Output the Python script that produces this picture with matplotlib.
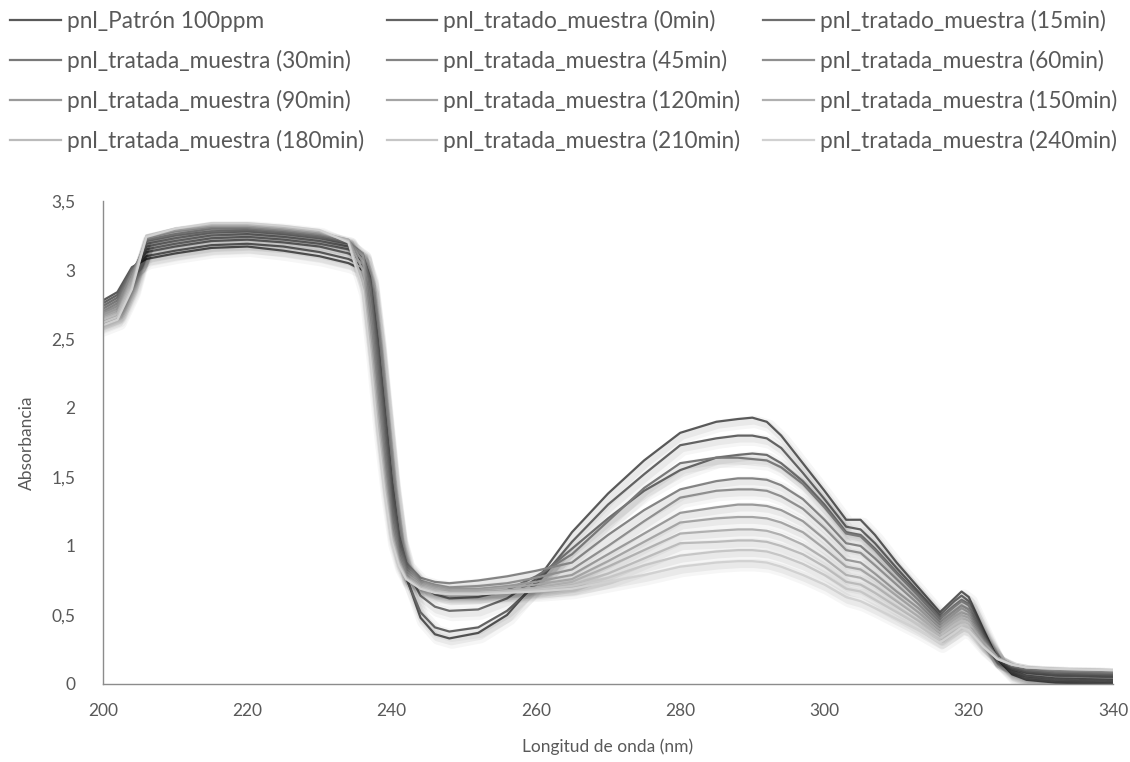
import numpy as np
import matplotlib
matplotlib.use("Agg")
import matplotlib.pyplot as plt
import matplotlib.patheffects as pe

plt.rcParams['font.family'] = ['Lato', 'DejaVu Sans']

# longitudes de onda (nm)
longitud = [200, 202, 204, 206, 210, 215, 220, 225, 230, 234, 236, 237, 238, 239,
            240, 241, 242, 244, 246, 248, 252, 256, 260, 265, 270, 275, 280, 285,
            288, 290, 292, 294, 297, 300, 303, 305, 307, 310, 313, 316, 318, 319,
            320, 322, 324, 326, 328, 332, 340]

etiquetas = ['pnl_Patrón 100ppm', 'pnl_tratado_muestra (0min)', 'pnl_tratado_muestra (15min)',
             'pnl_tratada_muestra (30min)', 'pnl_tratada_muestra (45min)', 'pnl_tratada_muestra (60min)',
             'pnl_tratada_muestra (90min)', 'pnl_tratada_muestra (120min)', 'pnl_tratada_muestra (150min)',
             'pnl_tratada_muestra (180min)', 'pnl_tratada_muestra (210min)', 'pnl_tratada_muestra (240min)']

# absorbancias por longitud de onda, columnas = series (Patrón, 0, 15, 30, 45, 60, 90, 120, 150, 180, 210, 240 min)
abs_200 = [2.78, 2.76, 2.74, 2.72, 2.70, 2.69, 2.68, 2.66, 2.65, 2.64, 2.62, 2.60]
abs_202 = [2.84, 2.82, 2.80, 2.78, 2.76, 2.74, 2.72, 2.70, 2.69, 2.68, 2.66, 2.64]
abs_204 = [3.02, 3.01, 3.00, 2.99, 2.98, 2.97, 2.95, 2.94, 2.92, 2.90, 2.88, 2.86]
abs_206 = [3.08, 3.10, 3.13, 3.15, 3.17, 3.19, 3.21, 3.22, 3.23, 3.24, 3.25, 3.24]
abs_210 = [3.12, 3.14, 3.17, 3.19, 3.21, 3.23, 3.25, 3.26, 3.28, 3.29, 3.30, 3.30]
abs_215 = [3.16, 3.18, 3.21, 3.23, 3.25, 3.27, 3.28, 3.30, 3.31, 3.32, 3.33, 3.34]
abs_220 = [3.17, 3.19, 3.22, 3.24, 3.26, 3.28, 3.29, 3.30, 3.31, 3.32, 3.33, 3.34]
abs_225 = [3.14, 3.17, 3.20, 3.22, 3.24, 3.26, 3.27, 3.28, 3.29, 3.30, 3.31, 3.32]
abs_230 = [3.10, 3.13, 3.17, 3.19, 3.21, 3.23, 3.24, 3.25, 3.26, 3.27, 3.28, 3.29]
abs_234 = [3.05, 3.08, 3.12, 3.15, 3.17, 3.19, 3.20, 3.21, 3.22, 3.22, 3.21, 3.20]
abs_236 = [3.00, 3.03, 3.07, 3.10, 3.11, 3.12, 3.12, 3.10, 3.06, 3.00, 2.92, 2.85]
abs_237 = [2.85, 2.86, 2.92, 2.95, 2.93, 2.90, 2.85, 2.78, 2.68, 2.58, 2.48, 2.38]
abs_238 = [2.45, 2.45, 2.50, 2.52, 2.48, 2.42, 2.35, 2.25, 2.15, 2.05, 1.95, 1.85]
abs_239 = [1.95, 1.93, 1.98, 2.00, 1.95, 1.88, 1.80, 1.72, 1.63, 1.55, 1.47, 1.40]
abs_240 = [1.45, 1.42, 1.47, 1.48, 1.42, 1.36, 1.30, 1.24, 1.18, 1.12, 1.08, 1.04]
abs_241 = [1.05, 1.03, 1.06, 1.08, 1.06, 1.02, 0.99, 0.96, 0.93, 0.90, 0.88, 0.86]
abs_242 = [0.78, 0.77, 0.84, 0.88, 0.88, 0.86, 0.84, 0.82, 0.80, 0.78, 0.77, 0.76]
abs_244 = [0.48, 0.52, 0.64, 0.72, 0.77, 0.75, 0.74, 0.73, 0.72, 0.71, 0.70, 0.69]
abs_246 = [0.36, 0.41, 0.56, 0.65, 0.74, 0.72, 0.71, 0.70, 0.69, 0.68, 0.67, 0.66]
abs_248 = [0.33, 0.38, 0.53, 0.62, 0.73, 0.70, 0.69, 0.68, 0.67, 0.66, 0.66, 0.65]
abs_252 = [0.37, 0.41, 0.54, 0.63, 0.75, 0.71, 0.69, 0.68, 0.67, 0.66, 0.66, 0.65]
abs_256 = [0.50, 0.53, 0.62, 0.68, 0.78, 0.73, 0.71, 0.70, 0.68, 0.67, 0.67, 0.66]
abs_260 = [0.74, 0.72, 0.76, 0.78, 0.82, 0.77, 0.74, 0.72, 0.70, 0.69, 0.68, 0.67]
abs_265 = [1.10, 1.03, 0.98, 0.94, 0.88, 0.83, 0.79, 0.76, 0.74, 0.72, 0.71, 0.69]
abs_270 = [1.38, 1.30, 1.20, 1.18, 1.08, 1.00, 0.94, 0.89, 0.85, 0.80, 0.77, 0.74]
abs_275 = [1.62, 1.52, 1.40, 1.42, 1.26, 1.18, 1.09, 1.03, 0.97, 0.91, 0.86, 0.79]
abs_280 = [1.82, 1.73, 1.55, 1.60, 1.41, 1.35, 1.24, 1.17, 1.09, 1.02, 0.93, 0.85]
abs_285 = [1.90, 1.78, 1.64, 1.64, 1.47, 1.40, 1.28, 1.20, 1.11, 1.03, 0.96, 0.88]
abs_288 = [1.92, 1.80, 1.66, 1.64, 1.49, 1.41, 1.30, 1.21, 1.12, 1.04, 0.97, 0.89]
abs_290 = [1.93, 1.80, 1.67, 1.63, 1.49, 1.41, 1.30, 1.21, 1.12, 1.04, 0.97, 0.89]
abs_292 = [1.90, 1.78, 1.66, 1.62, 1.48, 1.40, 1.29, 1.20, 1.11, 1.03, 0.96, 0.88]
abs_294 = [1.80, 1.71, 1.60, 1.57, 1.44, 1.36, 1.26, 1.17, 1.08, 1.00, 0.93, 0.85]
abs_297 = [1.60, 1.53, 1.47, 1.45, 1.34, 1.27, 1.18, 1.10, 1.01, 0.94, 0.87, 0.79]
abs_300 = [1.40, 1.34, 1.30, 1.28, 1.19, 1.13, 1.05, 0.98, 0.91, 0.85, 0.79, 0.72]
abs_303 = [1.19, 1.14, 1.10, 1.09, 1.02, 0.97, 0.90, 0.85, 0.79, 0.74, 0.69, 0.63]
abs_305 = [1.19, 1.12, 1.08, 1.07, 1.00, 0.95, 0.88, 0.83, 0.77, 0.72, 0.67, 0.60]
abs_307 = [1.08, 1.02, 0.98, 0.97, 0.91, 0.86, 0.80, 0.76, 0.71, 0.66, 0.61, 0.55]
abs_310 = [0.88, 0.84, 0.81, 0.80, 0.76, 0.72, 0.67, 0.64, 0.60, 0.56, 0.52, 0.47]
abs_313 = [0.70, 0.67, 0.65, 0.64, 0.61, 0.58, 0.55, 0.52, 0.49, 0.46, 0.43, 0.39]
abs_316 = [0.52, 0.50, 0.48, 0.47, 0.45, 0.43, 0.41, 0.39, 0.37, 0.35, 0.33, 0.30]
abs_318 = [0.62, 0.60, 0.57, 0.56, 0.53, 0.51, 0.49, 0.47, 0.45, 0.43, 0.40, 0.37]
abs_319 = [0.67, 0.64, 0.61, 0.60, 0.57, 0.55, 0.52, 0.50, 0.48, 0.46, 0.43, 0.41]
abs_320 = [0.63, 0.60, 0.58, 0.57, 0.54, 0.52, 0.50, 0.48, 0.46, 0.44, 0.41, 0.39]
abs_322 = [0.40, 0.38, 0.37, 0.36, 0.35, 0.34, 0.33, 0.32, 0.31, 0.30, 0.28, 0.27]
abs_324 = [0.18, 0.18, 0.18, 0.18, 0.19, 0.19, 0.19, 0.19, 0.19, 0.19, 0.18, 0.18]
abs_326 = [0.07, 0.08, 0.09, 0.10, 0.11, 0.12, 0.13, 0.13, 0.14, 0.14, 0.14, 0.14]
abs_328 = [0.03, 0.04, 0.05, 0.06, 0.08, 0.09, 0.10, 0.11, 0.12, 0.12, 0.12, 0.12]
abs_332 = [0.01, 0.02, 0.03, 0.04, 0.06, 0.07, 0.08, 0.09, 0.10, 0.11, 0.11, 0.11]
abs_340 = [0.00, 0.01, 0.02, 0.03, 0.05, 0.06, 0.07, 0.08, 0.09, 0.10, 0.10, 0.10]

tabla = np.array([abs_200, abs_202, abs_204, abs_206, abs_210, abs_215, abs_220, abs_225,
                  abs_230, abs_234, abs_236, abs_237, abs_238, abs_239, abs_240, abs_241,
                  abs_242, abs_244, abs_246, abs_248, abs_252, abs_256, abs_260, abs_265,
                  abs_270, abs_275, abs_280, abs_285, abs_288, abs_290, abs_292, abs_294,
                  abs_297, abs_300, abs_303, abs_305, abs_307, abs_310, abs_313, abs_316,
                  abs_318, abs_319, abs_320, abs_322, abs_324, abs_326, abs_328, abs_332,
                  abs_340])

yticks = [0, 0.5, 1, 1.5, 2, 2.5, 3, 3.5]
ytick_labels = ['0', '0,5', '1', '1,5', '2', '2,5', '3', '3,5']
xticks = [200, 220, 240, 260, 280, 300, 320, 340]

texto = '#595959'
grises = ['#595959', '#636363', '#6e6e6e', '#797979', '#848484', '#8f8f8f',
          '#9a9a9a', '#a5a5a5', '#b0b0b0', '#bbbbbb', '#c6c6c6', '#d1d1d1']

fig = plt.figure(figsize=(11.3, 7.62), dpi=100)
ax = fig.add_axes([0.0912, 0.1024, 0.8938, 0.6338])

# sombra difusa bajo cada curva
sombra = [pe.SimpleLineShadow(offset=(2, -3), shadow_color='k', alpha=0.035, linewidth=9),
          pe.SimpleLineShadow(offset=(1.5, -2.5), shadow_color='k', alpha=0.05, linewidth=5),
          pe.Normal()]

lineas = []
for i in range(len(etiquetas)):
    l, = ax.plot(longitud, tabla[:, i], color=grises[i], lw=1.6, label=etiquetas[i],
                 path_effects=sombra, solid_joinstyle='round')
    lineas.append(l)

ax.set_xlim(200, 340)
ax.set_ylim(0, 3.5)
ax.set_xticks(xticks)
ax.set_yticks(yticks)
ax.set_yticklabels(ytick_labels)
ax.tick_params(length=0, labelsize=12.5, colors=texto)
ax.tick_params(axis='x', pad=14)
ax.tick_params(axis='y', pad=20)
for s in ['top', 'right']:
    ax.spines[s].set_visible(False)
for s in ['left', 'bottom']:
    ax.spines[s].set_color('#8c8c8c')
    ax.spines[s].set_linewidth(1.0)

ax.set_xlabel('Longitud de onda (nm)', fontsize=12.5, color=texto, labelpad=14)
ax.set_ylabel('Absorbancia', fontsize=12.5, color=texto, labelpad=12)

# leyenda por filas: 3 columnas
orden = [0, 3, 6, 9, 1, 4, 7, 10, 2, 5, 8, 11]
leg = fig.legend([lineas[k] for k in orden], [etiquetas[k] for k in orden],
                 loc='upper left', bbox_to_anchor=(0.0, 1.0), ncol=3, frameon=False,
                 fontsize=16.3, handlelength=2.25, handletextpad=0.25, columnspacing=1.0,
                 labelspacing=0.78, borderaxespad=0.05)
for t in leg.get_texts():
    t.set_color(texto)
for h in leg.legend_handles:
    h.set_path_effects([])
    h.set_linewidth(1.6)

fig.savefig('out.png', dpi=100)
